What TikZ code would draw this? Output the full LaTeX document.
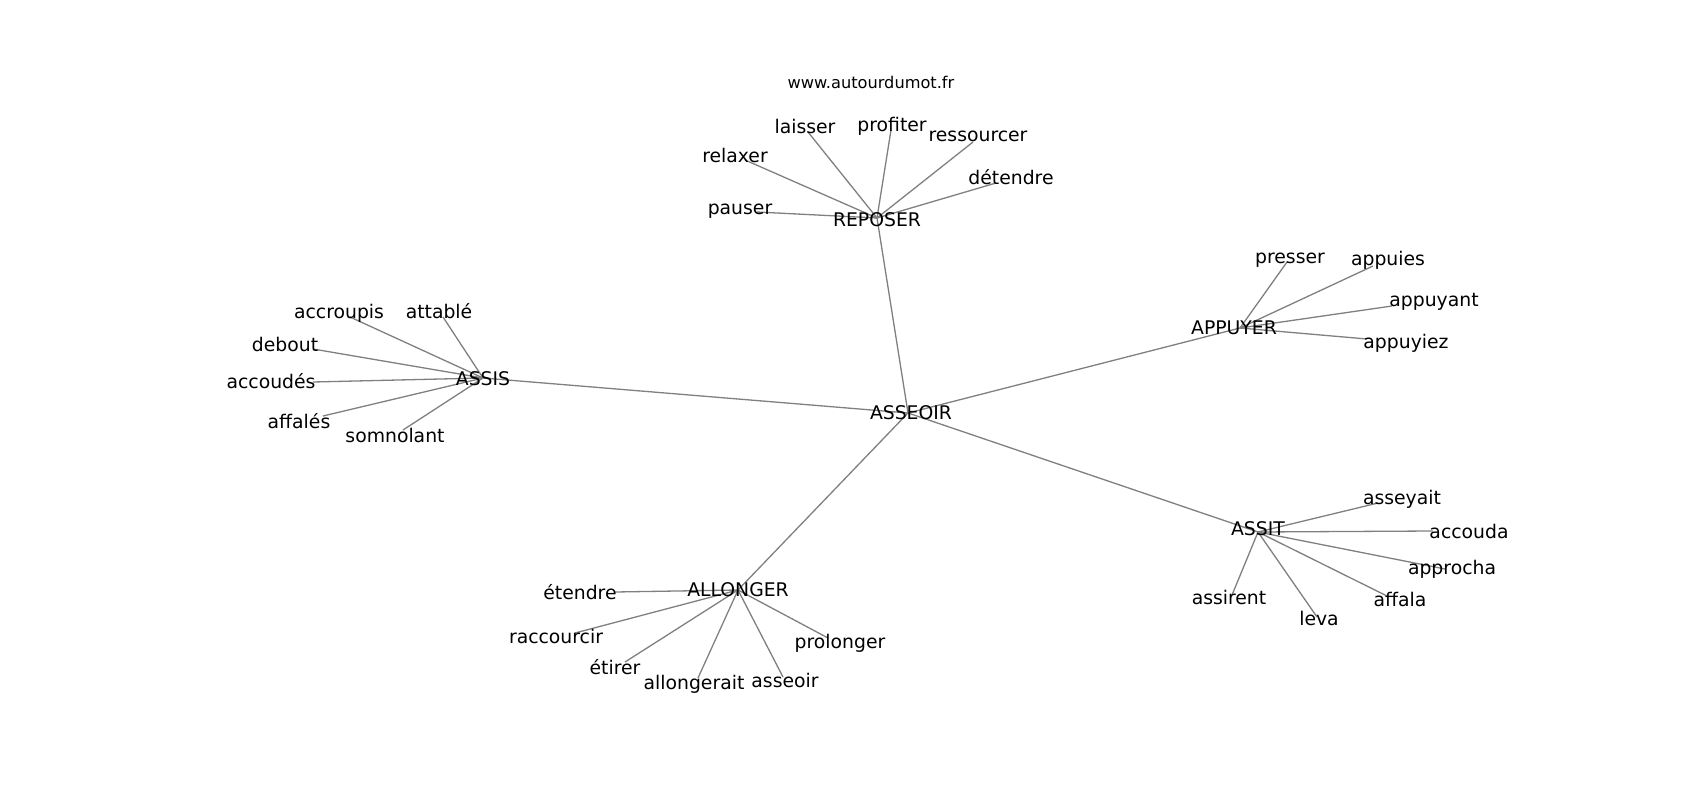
\documentclass[tikz,border=0pt]{standalone}
\usepackage{fontspec}
\setmainfont{DejaVu Sans}
\tikzset{
  edge/.style={draw=black!50, line width=1.3pt},
  lbl/.style={inner sep=0pt, anchor=center, yshift=-3.5pt, text height=0.74em, text depth=0pt, font=\fontsize{18.8}{20}\selectfont},
  url/.style={inner sep=0pt, anchor=center, yshift=-3pt, text height=0.74em, text depth=0pt, font=\fontsize{16.2}{18}\selectfont}
}
% name, text, label x, label y, end x, end y, hub
\newcommand\wleaf[7]{%
  \coordinate (#1p) at (#5,#6);
  \draw[edge] (#7) -- (#1p);
  \node[lbl] (#1) at (#3,#4) {#2};}
\begin{document}
\begin{tikzpicture}[x=1pt,y=-1pt]
\fill[white] (0,0) rectangle (1700,800);
\useasboundingbox (0,0) rectangle (1700,800);
% hubs
\coordinate (hA) at (908,413);
\coordinate (hR) at (877,218);
\coordinate (hS) at (483,378);
\coordinate (hP) at (1240,328);
\coordinate (hT) at (1258,532);
\coordinate (hL) at (738,590);
\draw[edge] (hA) -- (hR);
\draw[edge] (hA) -- (hS);
\draw[edge] (hA) -- (hP);
\draw[edge] (hA) -- (hT);
\draw[edge] (hA) -- (hL);
% REPOSER
\wleaf{laisser}{laisser}{805}{126}{808}{132}{hR}
\wleaf{profiter}{profiter}{892}{124}{891}{130}{hR}
\wleaf{ressourcer}{ressourcer}{978}{134}{973}{142}{hR}
\wleaf{relaxer}{relaxer}{735}{155}{745}{160}{hR}
\wleaf{detendre}{détendre}{1011}{177}{996}{183}{hR}
\wleaf{pauser}{pauser}{740}{207}{757}{212}{hR}
% ASSIS
\wleaf{accroupis}{accroupis}{339}{311}{350}{317}{hS}
\wleaf{attable}{attablé}{439}{311}{443}{317}{hS}
\wleaf{debout}{debout}{285}{344}{313}{349}{hS}
\wleaf{accoudes}{accoudés}{271}{381}{313}{382}{hS}
\wleaf{affales}{affalés}{299}{421}{323}{416}{hS}
\wleaf{somnolant}{somnolant}{395}{435}{403}{430}{hS}
% APPUYER
\wleaf{presser}{presser}{1290}{256}{1287}{262}{hP}
\wleaf{appuies}{appuies}{1388}{258}{1373}{266}{hP}
\wleaf{appuyant}{appuyant}{1434}{299}{1392}{306}{hP}
\wleaf{appuyiez}{appuyiez}{1406}{341}{1367}{339}{hP}
% ASSIT
\wleaf{asseyait}{asseyait}{1402}{497}{1378}{503}{hT}
\wleaf{accouda}{accouda}{1469}{531}{1433}{531}{hT}
\wleaf{approcha}{approcha}{1452}{567}{1445}{569}{hT}
\wleaf{affala}{affala}{1400}{599}{1387}{596}{hT}
\wleaf{assirent}{assirent}{1229}{597}{1232}{595}{hT}
\wleaf{leva}{leva}{1319}{618}{1317}{617}{hT}
% ALLONGER
\wleaf{etendre}{étendre}{580}{592}{615}{592}{hL}
\wleaf{raccourcir}{raccourcir}{556}{636}{575}{633}{hL}
\wleaf{etirer}{étirer}{615}{667}{625}{662}{hL}
\wleaf{allongerait}{allongerait}{694}{682}{698}{678}{hL}
\wleaf{asseoirw}{asseoir}{785}{680}{783}{677}{hL}
\wleaf{prolonger}{prolonger}{840}{641}{828}{638}{hL}
% hub labels
\node[lbl] (ASSEOIR) at (911,412) {ASSEOIR};
\node[lbl] (REPOSER) at (877,219) {REPOSER};
\node[lbl] (ASSIS) at (483,378) {ASSIS};
\node[lbl] (APPUYER) at (1234,327) {APPUYER};
\node[lbl] (ASSIT) at (1258,528) {ASSIT};
\node[lbl] (ALLONGER) at (738,589) {ALLONGER};
% url
\node[url] (site) at (871,82) {www.autourdumot.fr};
\end{tikzpicture}
\end{document}
